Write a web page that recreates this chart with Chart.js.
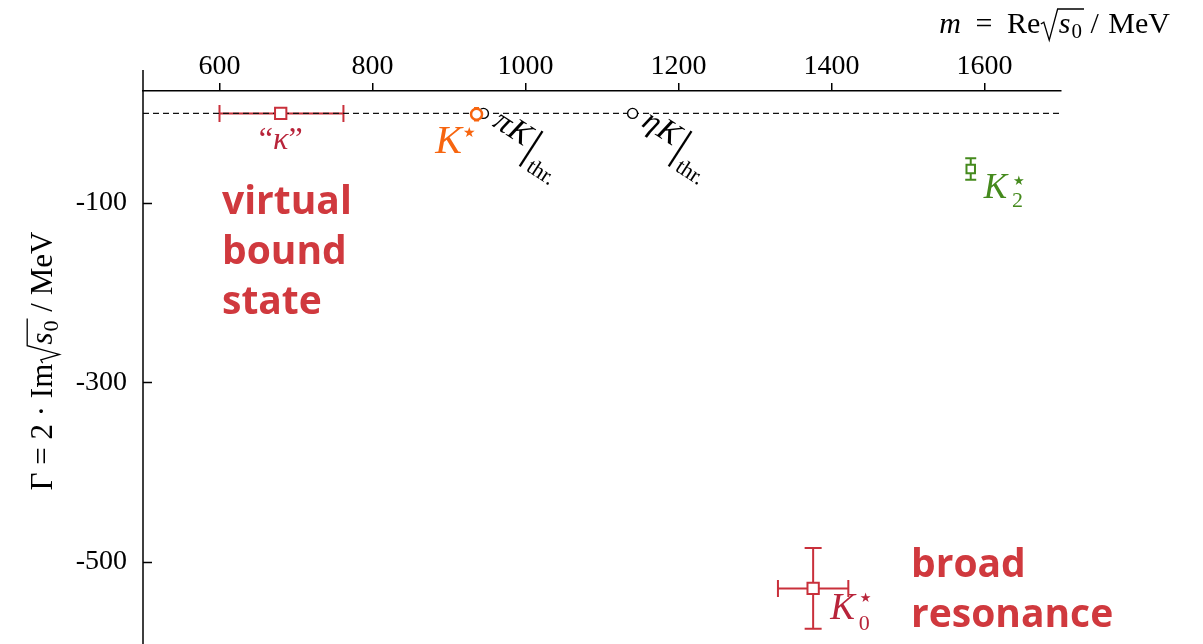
<!DOCTYPE html>
<html>
<head>
<meta charset="utf-8">
<title>Strange resonance poles</title>
<script src="https://cdn.jsdelivr.net/npm/chart.js@4.4.0/dist/chart.umd.min.js"></script>
<style>
    html, body { margin: 0; padding: 0; background: #fff; }
    #wrap { width: 1203px; height: 644px; overflow: hidden; }
</style>
</head>
<body>
<div id="wrap"><canvas id="poleChart" width="1203" height="644"></canvas></div>
<script>
/* ==================== Data ==================== */
const poleNames = ['kappa', 'Kstar', 'K2star', 'K0star'];
const poleMass = [680, 936, 1582, 1376];
const poleWidth = [0, -1, -62, -530];
const massErrMinus = [80, 0, 0, 46];
const massErrPlus = [82, 0, 0, 46];
const widthErrMinus = [0, 7, 12, 45];
const widthErrPlus = [0, 7, 12, 45];

const thresholdNames = ['π', 'η'];
const thresholdMass = [945, 1140];

const xTicks = [600, 800, 1000, 1200, 1400, 1600];
const yTicks = [-100, -300, -500];
const xRange = [500, 1700];
const yRange = [-592, 25];

/* ==================== Styles ==================== */
const SERIF = '"Liberation Serif", "DejaVu Serif", serif';
const SANS = '"Open Sans", "DejaVu Sans", sans-serif';
const RED = '#c9303b';
const LABEL_RED = '#b8243a';
const TEXT_RED = '#d0393e';

const POLE_STYLE = {
    color: [RED, '#f7650f', '#458a1d', RED],
    marker: ['rect', 'circle', 'rect', 'rect'],
    radius: [8, 5.5, 6, 8],
    cap: [17, 5, 11, 17]
};

/* ==================== Rich text helper ==================== */
// segments: { text, font, dx, dy, gap, stack } or { sqrt: size, body: [...] }
function measureSegs(ctx, segs) {
    let total = 0;
    segs.forEach(s => {
        if (s.sqrt) {
            s.w = s.sqrt * 0.62 + measureSegs(ctx, s.body);
        } else {
            ctx.font = s.font;
            s.w = s.stack ? 0 : ctx.measureText(s.text).width + (s.dx || 0) + (s.gap || 0);
        }
        total += s.w;
    });
    return total;
}

function drawSegs(ctx, cx, y, segs) {
    segs.forEach(s => {
        if (s.sqrt) {
            const k = s.sqrt;
            const bodyW = s.w - k * 0.62;
            ctx.save();
            ctx.strokeStyle = ctx.fillStyle;
            ctx.lineJoin = 'miter';
            ctx.lineWidth = 1.3;
            ctx.beginPath();
            ctx.moveTo(cx + 0.02 * k, y - 0.3 * k);
            ctx.lineTo(cx + 0.12 * k, y - 0.36 * k);
            ctx.lineTo(cx + 0.3 * k, y + 0.24 * k);
            ctx.lineTo(cx + 0.58 * k, y - 0.8 * k);
            ctx.lineTo(cx + 0.62 * k + bodyW + 1, y - 0.8 * k);
            ctx.stroke();
            ctx.restore();
            drawSegs(ctx, cx + k * 0.62, y, s.body);
        } else {
            ctx.font = s.font;
            ctx.fillText(s.text, cx + (s.dx || 0), y + (s.dy || 0));
        }
        cx += s.w;
    });
}

function drawRich(ctx, x, y, segs, align) {
    const total = measureSegs(ctx, segs);
    const cx = align === 'right' ? x - total : align === 'center' ? x - total / 2 : x;
    ctx.textAlign = 'left';
    ctx.textBaseline = 'alphabetic';
    drawSegs(ctx, cx, y, segs);
}

function sqrtS0(size) {
    return {
        sqrt: size,
        body: [
            { text: 's', font: `italic ${size}px ${SERIF}`, gap: 1 },
            { text: '0', font: `${Math.round(size * 0.7)}px ${SERIF}`, dy: size * 0.18, gap: 1 }
        ]
    };
}

/* ==================== Decorations plugin ==================== */
const poleDecor = {
    id: 'poleDecor',
    beforeDatasetsDraw(chart) {
        const { ctx, scales: { x, y } } = chart;
        ctx.save();
        ctx.lineWidth = 2;
        poleMass.forEach((m, i) => {
            const px = x.getPixelForValue(m);
            const py = y.getPixelForValue(poleWidth[i]);
            const cap = POLE_STYLE.cap[i] / 2;
            ctx.strokeStyle = POLE_STYLE.color[i];
            ctx.beginPath();
            if (massErrMinus[i] || massErrPlus[i]) {
                const x0 = x.getPixelForValue(m - massErrMinus[i]);
                const x1 = x.getPixelForValue(m + massErrPlus[i]);
                ctx.moveTo(x0, py); ctx.lineTo(x1, py);
                ctx.moveTo(x0, py - cap); ctx.lineTo(x0, py + cap);
                ctx.moveTo(x1, py - cap); ctx.lineTo(x1, py + cap);
            }
            if (widthErrMinus[i] || widthErrPlus[i]) {
                const y0 = y.getPixelForValue(poleWidth[i] + widthErrPlus[i]);
                const y1 = y.getPixelForValue(poleWidth[i] - widthErrMinus[i]);
                ctx.moveTo(px, y0); ctx.lineTo(px, y1);
                ctx.moveTo(px - cap, y0); ctx.lineTo(px + cap, y0);
                ctx.moveTo(px - cap, y1); ctx.lineTo(px + cap, y1);
            }
            ctx.stroke();
        });
        ctx.restore();
    },
    afterDraw(chart) {
        const { ctx, chartArea: ca, scales: { x, y } } = chart;
        ctx.save();

        // y axis line (runs a little above the top axis) and inward ticks
        ctx.strokeStyle = '#000';
        ctx.lineWidth = 1.5;
        ctx.beginPath();
        ctx.moveTo(ca.left, ca.top - 21);
        ctx.lineTo(ca.left, ca.bottom);
        yTicks.forEach(v => {
            const py = Math.round(y.getPixelForValue(v)) + 0.5;
            ctx.moveTo(ca.left, py);
            ctx.lineTo(ca.left + 9, py);
        });
        ctx.stroke();

        // axis titles
        ctx.fillStyle = '#000';
        drawRich(ctx, 1170, 33, [
            { text: 'm', font: `italic 30px ${SERIF}`, gap: 7 },
            { text: ' = ', font: `30px ${SERIF}`, gap: 7 },
            { text: 'Re', font: `30px ${SERIF}` },
            sqrtS0(30),
            { text: ' / ', font: `30px ${SERIF}`, gap: 2 },
            { text: 'MeV', font: `30px ${SERIF}` }
        ], 'right');

        ctx.save();
        ctx.translate(52, 361);
        ctx.rotate(-Math.PI / 2);
        drawRich(ctx, 0, 0, [
            { text: 'Γ = 2 · Im', font: `31px ${SERIF}` },
            sqrtS0(31),
            { text: ' / MeV', font: `31px ${SERIF}` }
        ], 'center');
        ctx.restore();

        // threshold labels
        thresholdMass.forEach((m, i) => {
            const px = x.getPixelForValue(m);
            const py = y.getPixelForValue(0);
            ctx.save();
            ctx.translate(px + 8, py + 12);
            ctx.rotate(33 * Math.PI / 180);
            ctx.fillStyle = '#000';
            drawRich(ctx, 0, 0, [
                { text: thresholdNames[i], font: `italic 32px ${SERIF}`, gap: 1 },
                { text: 'K', font: `italic 32px ${SERIF}`, gap: 3 },
                { text: '|', font: `46px ${SERIF}`, dy: 9, gap: 2 },
                { text: 'thr.', font: `22px ${SERIF}`, dy: 19 }
            ], 'left');
            ctx.restore();
        });

        // pole labels
        const pos = poleMass.map((m, i) => [x.getPixelForValue(m), y.getPixelForValue(poleWidth[i])]);
        ctx.fillStyle = LABEL_RED;
        drawRich(ctx, pos[0][0], pos[0][1] + 36, [
            { text: '“', font: `32px ${SERIF}` },
            { text: 'κ', font: `italic 32px ${SERIF}` },
            { text: '”', font: `32px ${SERIF}` }
        ], 'center');

        ctx.fillStyle = POLE_STYLE.color[1];
        drawRich(ctx, pos[1][0] - 1, pos[1][1] + 39, [
            { text: 'K', font: `italic 40px ${SERIF}` },
            { text: '★', font: `14px "DejaVu Sans"`, dx: 1, dy: -16 }
        ], 'right');

        ctx.fillStyle = POLE_STYLE.color[2];
        drawRich(ctx, pos[2][0] + 13, pos[2][1] + 29, [
            { text: 'K', font: `italic 35px ${SERIF}` },
            { text: '★', font: `13px "DejaVu Sans"`, dx: 6, dy: -13, stack: true },
            { text: '2', font: `22px ${SERIF}`, dx: 5, dy: 9 }
        ], 'left');

        ctx.fillStyle = LABEL_RED;
        drawRich(ctx, pos[3][0] + 17, pos[3][1] + 31, [
            { text: 'K', font: `italic 37px ${SERIF}` },
            { text: '★', font: `13px "DejaVu Sans"`, dx: 5, dy: -17, stack: true },
            { text: '0', font: `22px ${SERIF}`, dx: 4, dy: 11 }
        ], 'left');

        // region captions
        ctx.fillStyle = TEXT_RED;
        ctx.font = `bold 39px ${SANS}`;
        ctx.textAlign = 'left';
        ctx.textBaseline = 'alphabetic';
        ['virtual', 'bound', 'state'].forEach((t, k) => ctx.fillText(t, 222, 214 + k * 50));
        ['broad', 'resonance'].forEach((t, k) => ctx.fillText(t, 911, 577 + k * 50));

        ctx.restore();
    }
};

/* ==================== Datasets ==================== */
const datasets = [
    {
        type: 'line',
        data: xRange.map(v => ({ x: v, y: 0 })),
        borderColor: '#111',
        borderWidth: 1.3,
        borderDash: [6, 4],
        pointRadius: 0,
        order: 10
    },
    {
        data: thresholdMass.map(v => ({ x: v, y: 0 })),
        pointStyle: 'circle',
        pointRadius: 5,
        backgroundColor: '#fff',
        borderColor: '#000',
        borderWidth: 1.4,
        order: 5
    }
];

poleMass.forEach((m, i) => {
    datasets.push({
        label: poleNames[i],
        data: [{ x: m, y: poleWidth[i] }],
        pointStyle: POLE_STYLE.marker[i],
        pointRadius: POLE_STYLE.radius[i],
        backgroundColor: '#fff',
        borderColor: POLE_STYLE.color[i],
        borderWidth: i === 1 ? 2.5 : 2,
        order: 1
    });
});

/* ==================== Chart ==================== */
new Chart(document.getElementById('poleChart'), {
    type: 'scatter',
    data: { datasets },
    plugins: [poleDecor],
    options: {
        responsive: false,
        animation: false,
        devicePixelRatio: 1,
        layout: { autoPadding: false, padding: { left: 0, right: 142, top: 0, bottom: 0 } },
        plugins: {
            legend: { display: false },
            tooltip: { enabled: false }
        },
        scales: {
            x: {
                type: 'linear',
                position: 'top',
                min: xRange[0],
                max: xRange[1],
                afterBuildTicks: s => { s.ticks = xTicks.map(v => ({ value: v })); },
                afterFit: s => { s.height = 91; s.paddingLeft = 0; s.paddingRight = 0; },
                grid: {
                    drawOnChartArea: false,
                    drawTicks: true,
                    tickLength: 8,
                    color: '#000',
                    lineWidth: 1.5
                },
                border: { display: true, color: '#000', width: 1.5 },
                ticks: {
                    padding: 0,
                    color: '#000',
                    maxRotation: 0,
                    font: { family: SERIF, size: 28 },
                    callback: v => String(v)
                }
            },
            y: {
                type: 'linear',
                min: yRange[0],
                max: yRange[1],
                afterBuildTicks: s => { s.ticks = yTicks.map(v => ({ value: v })); },
                afterFit: s => { s.width = 143; s.paddingTop = 0; s.paddingBottom = 0; },
                grid: { display: false, drawTicks: false },
                border: { display: false },
                ticks: {
                    padding: 16,
                    color: '#000',
                    font: { family: SERIF, size: 28 },
                    callback: v => String(v)
                }
            }
        }
    }
});
</script>
</body>
</html>
